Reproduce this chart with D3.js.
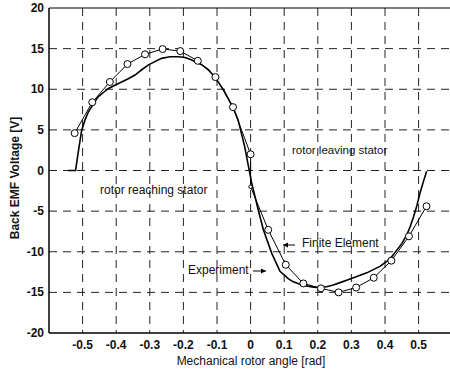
<!DOCTYPE html>
<html><head><meta charset="utf-8">
<script src="https://cdn.jsdelivr.net/npm/d3@7"></script>
<style>
html,body{margin:0;padding:0;background:#fff;}
text{font-family:"Liberation Sans",Arial,sans-serif;fill:#111;}
</style></head>
<body><svg id="c" width="450" height="370"></svg>
<script>
// ---- data ----
const xTicks = [-0.5,-0.4,-0.3,-0.2,-0.1,0,0.1,0.2,0.3,0.4,0.5];
const xTickLabels = ["-0.5","-0.4","-0.3","-0.2","-0.1","0","0.1","0.2","0.3","0.4","0.5"];
const yTicks = [-20,-15,-10,-5,0,5,10,15,20];
const yTickLabels = ["-20","-15","-10","-5","0","5","10","15","20"];

// Finite element (markers every 3 degrees)
const feX = [-0.5236,-0.4712,-0.4189,-0.3665,-0.3142,-0.2618,-0.2094,-0.1571,-0.1047,-0.0524,0,0,
             0.0524,0.1047,0.1571,0.2094,0.2618,0.3142,0.3665,0.4189,0.4712,0.5236];
const feY = [4.6,8.4,10.9,13.1,14.3,14.95,14.7,13.5,11.5,7.8,2.0,-2.0,
             -7.3,-11.6,-13.9,-14.5,-15.0,-14.4,-13.2,-11.1,-8.1,-4.4];
const feMarker = [1,1,1,1,1,1,1,1,1,1,1,0.5,1,1,1,1,1,1,1,1,1,1];

// Experiment
const expX = [-0.543,-0.521,-0.512,-0.503,-0.493,-0.483,-0.468,-0.453,-0.438,-0.423,-0.404,-0.384,-0.364,-0.344,
  -0.324,-0.304,-0.285,-0.265,-0.24,-0.215,-0.195,-0.175,-0.16,-0.145,-0.125,-0.105,-0.08,-0.051,-0.037,-0.018,
  0.003,0.023,0.038,0.063,0.0875,0.112,0.127,0.147,0.167,0.187,0.207,0.226,0.246,0.266,0.286,0.306,0.326,0.346,
  0.365,0.385,0.405,0.42,0.435,0.45,0.465,0.475,0.485,0.495,0.504,0.514,0.524];
const expY = [0,0,2.5,4.9,6.2,7.2,8.2,9.1,9.6,10.1,10.5,10.9,11.3,11.75,
  12.4,13.0,13.4,13.8,14.0,14.0,13.9,13.6,13.3,13.0,12.4,11.4,9.9,7.65,6.2,3.0,
  -1.5,-4.9,-7.3,-10.2,-12.4,-13.3,-13.7,-14.0,-14.2,-14.35,-14.4,-14.3,-14.1,-13.8,-13.5,-13.2,-12.9,-12.6,
  -12.2,-11.8,-11.2,-10.6,-9.8,-9.0,-7.9,-6.9,-5.7,-4.3,-2.8,-1.4,-0.1];

// ---- chart ----
const svg = d3.select("#c");
const L = 49, T = 8, B = 333;
const x = d3.scaleLinear().domain([-0.6,0.6]).range([L, L + 12*33.6]);
const y = d3.scaleLinear().domain([-20,20]).range([B, T]);

// grid
const g = svg.append("g");
g.selectAll("line.vg").data(xTicks).join("line")
  .attr("x1", d=>x(d)).attr("x2", d=>x(d)).attr("y1", T).attr("y2", B)
  .attr("stroke","#222").attr("stroke-width",1).attr("stroke-dasharray","8,6");
g.selectAll("line.hg").data(yTicks.filter(d=>d>-20 && d<20)).join("line")
  .attr("x1", L).attr("x2", 450).attr("y1", d=>y(d)).attr("y2", d=>y(d))
  .attr("stroke","#222").attr("stroke-width",1).attr("stroke-dasharray","8,6");

// frame
svg.append("line").attr("x1",L).attr("x2",450).attr("y1",T).attr("y2",T).attr("stroke","#000").attr("stroke-width",1.2);
svg.append("line").attr("x1",L).attr("x2",450).attr("y1",B).attr("y2",B).attr("stroke","#000").attr("stroke-width",1.5);
svg.append("line").attr("x1",L).attr("x2",L).attr("y1",T).attr("y2",B).attr("stroke","#000").attr("stroke-width",1.5);

// tick labels
svg.selectAll("text.xt").data(xTicks).join("text")
  .attr("x", d=>x(d)).attr("y", 349).attr("text-anchor","middle")
  .attr("font-size",12).attr("font-weight","bold")
  .text((d,i)=>xTickLabels[i]);
svg.selectAll("text.yt").data(yTicks).join("text")
  .attr("x", 44).attr("y", d=>y(d)+4).attr("text-anchor","end")
  .attr("font-size",12).attr("font-weight","bold")
  .text((d,i)=>yTickLabels[i]);

// axis titles
svg.append("text").attr("x",251).attr("y",365).attr("text-anchor","middle")
  .attr("font-size",12).text("Mechanical rotor angle [rad]");
svg.append("text").attr("transform","translate(19,178) rotate(-90)").attr("text-anchor","middle")
  .attr("font-size",12).attr("font-weight","bold").text("Back EMF Voltage [V]");

// lines
const line = d3.line().x(d=>x(d[0])).y(d=>y(d[1]));
svg.append("path").datum(expX.map((v,i)=>[v,expY[i]]))
  .attr("d",line).attr("fill","none").attr("stroke","#000").attr("stroke-width",1.6);
svg.append("path").datum(feX.map((v,i)=>[v,feY[i]]))
  .attr("d",line).attr("fill","none").attr("stroke","#000").attr("stroke-width",1);
svg.selectAll("circle.fe").data(feX.map((v,i)=>[v,feY[i],feMarker[i]])).join("circle")
  .attr("cx",d=>x(d[0])).attr("cy",d=>y(d[1])).attr("r",d=>3.5*d[2])
  .attr("fill","#fff").attr("stroke","#000").attr("stroke-width",1);

// annotations
svg.append("text").attr("x",292).attr("y",154).attr("font-size",11.5).text("rotor leaving stator");
svg.append("text").attr("x",100).attr("y",194).attr("font-size",12).text("rotor reaching stator");
svg.append("text").attr("x",302).attr("y",247).attr("font-size",12).text("Finite Element");
svg.append("text").attr("x",188).attr("y",274).attr("font-size",12).text("Experiment");
function arrow(x1,y1,x2,y2){
  svg.append("line").attr("x1",x1).attr("y1",y1).attr("x2",x2).attr("y2",y2).attr("stroke","#000").attr("stroke-width",1);
  const dir = Math.sign(x2-x1);
  svg.append("path").attr("d",`M${x2},${y2} L${x2-dir*5},${y2-2.5} L${x2-dir*5},${y2+2.5} Z`).attr("fill","#000");
}
arrow(295,245,283,245);
arrow(253,271,266,271);
</script></body></html>
